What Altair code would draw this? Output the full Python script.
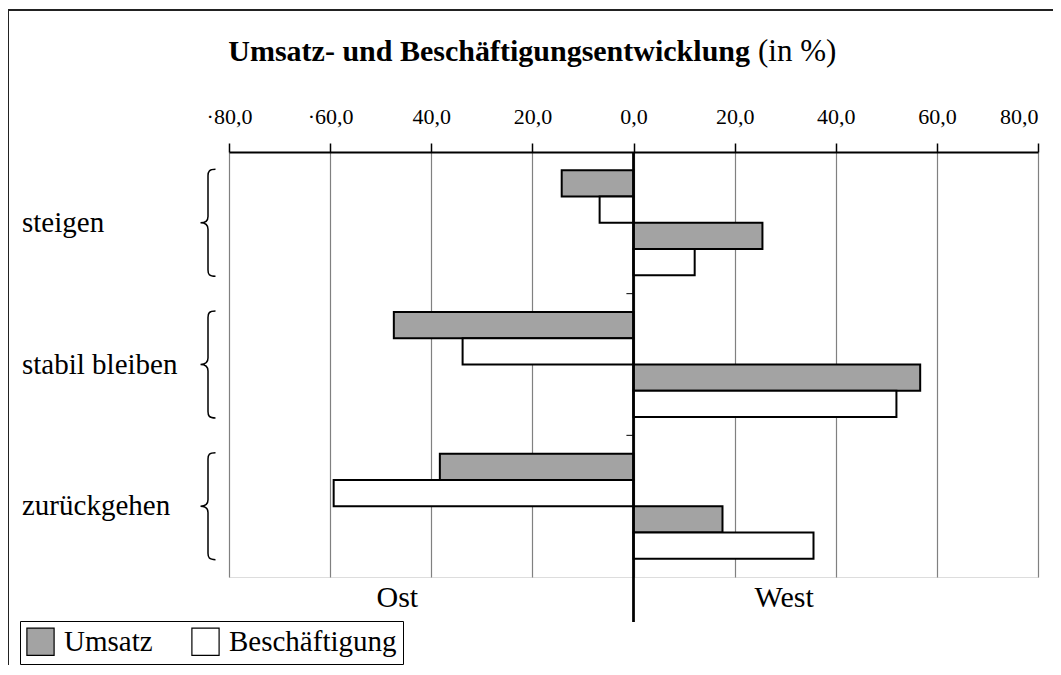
import altair as alt
import pandas as pd

# ---- data ----
groups = ["steigen", "stabil bleiben", "zurückgehen"]
ost_umsatz = [-14.2, -47.4, -38.3]
ost_besch = [-6.7, -33.8, -59.3]
west_umsatz = [25.5, 56.7, 17.6]
west_besch = [12.1, 52.0, 35.6]

tick_values = [-80, -60, -40, -20, 0, 20, 40, 60, 80]
tick_labels = ["·80,0", "·60,0", "40,0", "20,0", "0,0", "20,0", "40,0", "60,0", "80,0"]

region_labels = ["Ost", "West"]
region_pos = [-46.7, 29.8]

series_types = ["Umsatz", "Beschäftigung"]
keys = ["Ost-Umsatz", "Ost-Beschäftigung", "West-Umsatz", "West-Beschäftigung"]

FONT = "Liberation Serif"

rows = []
for i, g in enumerate(groups):
    rows.append({"group": g, "key": keys[0], "typ": "Umsatz", "value": ost_umsatz[i]})
    rows.append({"group": g, "key": keys[1], "typ": "Beschäftigung", "value": ost_besch[i]})
    rows.append({"group": g, "key": keys[2], "typ": "Umsatz", "value": west_umsatz[i]})
    rows.append({"group": g, "key": keys[3], "typ": "Beschäftigung", "value": west_besch[i]})
df = pd.DataFrame(rows)
gdf = pd.DataFrame({"group": groups})
bdf = pd.DataFrame({"group": groups[1:]})
rdf = pd.DataFrame({"label": region_labels, "pos": region_pos})

label_expr = ""
for v, l in zip(tick_values, tick_labels):
    label_expr += f"datum.value == {v} ? '{l}' : "
label_expr += "''"

yenc = alt.Y("group:N", sort=groups, axis=None,
             scale=alt.Scale(paddingInner=0, paddingOuter=0))

xenc = alt.X("value:Q",
             scale=alt.Scale(domain=[-80, 80], nice=False, zero=False),
             axis=alt.Axis(orient="top", values=tick_values, labelExpr=label_expr,
                           labelFlush=False,
                           labelAlign={"condition": {"test": "datum.value == 80", "value": "right"},
                                       "value": "center"},
                           labelBound=False,
                           grid=True, gridColor="#808080", gridWidth=1.2,
                           tickSize=9, tickColor="black", tickWidth=1.5,
                           domainColor="black", domainWidth=2,
                           labelFont=FONT, labelFontSize=22, labelColor="black",
                           labelPadding=15, title=None))

bars = alt.Chart(df).mark_bar(stroke="black", strokeWidth=2).encode(
    x=xenc,
    y=yenc,
    yOffset=alt.YOffset("key:N", sort=keys,
                        scale=alt.Scale(paddingInner=0, paddingOuter=0.7)),
    fill=alt.Fill("typ:N",
                  scale=alt.Scale(domain=series_types, range=["#a3a3a3", "white"]),
                  legend=alt.Legend(orient="none", legendX=-209, legendY=469,
                                    direction="horizontal", title=None,
                                    symbolType="square", symbolSize=740,
                                    symbolStrokeColor="black", symbolStrokeWidth=1.2,
                                    labelFont=FONT, labelFontSize=29, labelColor="black",
                                    labelLimit=400, columnPadding=36, labelOffset=9,
                                    padding=6, strokeColor="black")),
)

zero_line = alt.Chart(gdf).mark_rule(color="black", strokeWidth=2).encode(
    x=alt.datum(0), y=alt.value(0), y2=alt.value(470)
)

bound_ticks = alt.Chart(bdf).mark_rule(color="black", strokeWidth=1).encode(
    x=alt.datum(-1.4), x2=alt.datum(0),
    y=alt.Y("group:N", sort=groups, bandPosition=0, axis=None)
)

brace_path = ("M 0.14 -1 C 0.02 -1 0 -0.96 0 -0.88 L 0 -0.12 "
              "C 0 -0.04 -0.04 0 -0.14 0 C -0.04 0 0 0.04 0 0.12 "
              "L 0 0.88 C 0 0.96 0.02 1 0.14 1")
braces = alt.Chart(gdf).mark_point(shape=brace_path, size=107 * 107, filled=False,
                                   stroke="black", strokeWidth=1.5, opacity=1).encode(
    y=yenc, x=alt.value(-21)
)

cat_labels = alt.Chart(gdf).mark_text(align="left", baseline="middle", font=FONT,
                                      fontSize=29, color="black").encode(
    y=yenc, x=alt.value(-207), text="group:N"
)

region_text = alt.Chart(rdf).mark_text(align="center", baseline="middle", font=FONT,
                                       fontSize=30, color="black").encode(
    x=alt.X("pos:Q"), y=alt.value(446), text="label:N"
)

title_bold = alt.Chart(gdf.head(1)).mark_text(
    align="right", baseline="middle", font=FONT, fontSize=30, fontWeight="bold",
    color="black", text="Umsatz- und Beschäftigungsentwicklung"
).encode(x=alt.value(521), y=alt.value(-100))

title_norm = alt.Chart(gdf.head(1)).mark_text(
    align="left", baseline="middle", font=FONT, fontSize=31,
    color="black", text="(in %)"
).encode(x=alt.value(529), y=alt.value(-100))

frame = alt.Chart(gdf.head(1)).mark_rect(filled=False, stroke="#222", strokeWidth=2).encode(
    x=alt.value(-221), y=alt.value(-142), x2=alt.value(900), y2=alt.value(700)
)

chart = alt.layer(
    frame, bars, zero_line, bound_ticks, braces, cat_labels, region_text,
    title_bold, title_norm
).properties(
    width=809, height=425,
    autosize=alt.AutoSizeParams(type="none"),
    padding={"left": 221, "top": 144, "right": 15, "bottom": 88},
).configure_view(
    stroke="#555", strokeWidth=2
).configure_legend(
    strokeWidth=2
).configure(background="white")

chart.save("out.html", embed_options={"renderer": "svg", "actions": False})
